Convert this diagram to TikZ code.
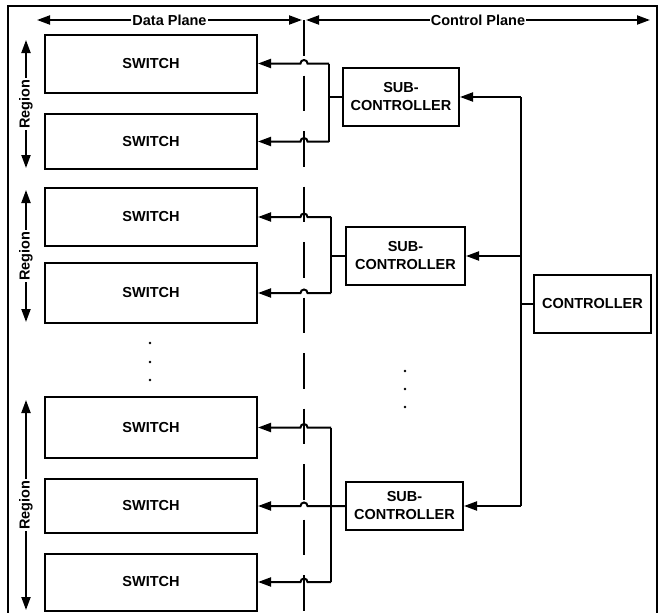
\documentclass[tikz,border=0pt]{standalone}
\usepackage{fontspec}
\setmainfont{Liberation Sans}
\usetikzlibrary{arrows.meta,calc}
\begin{document}
\begin{tikzpicture}[x=1pt,y=-1pt,
  lw/.style={line width=2pt},
  txt/.style={font=\fontsize{14.5}{18}\selectfont\bfseries,align=center},
  swbox/.style={draw,lw,txt,minimum width=212pt,minimum height=#1,inner sep=0pt},
  scbox/.style={draw,lw,txt,minimum width=117pt,minimum height=#1,inner sep=0pt},
  arr/.style={lw,-{Triangle[length=13pt,width=9pt]}},
  darr/.style={lw,{Triangle[length=13pt,width=9pt]}-{Triangle[length=13pt,width=9pt]}},
  lbl/.style={txt,fill=white,inner sep=1pt},
  dot/.style={circle,fill,inner sep=0pt,minimum size=2.8pt}
]
\useasboundingbox (0,0) rectangle (659,613);
\fill[white] (0,0) rectangle (659,613);
% frame
\draw[lw] (8,618) -- (8,6) -- (657,6) -- (657,618);

% top plane arrows
\coordinate (dpl) at (37,20);
\coordinate (dpr) at (302,20);
\coordinate (cpl) at (306,20);
\coordinate (cpr) at (650,20);
\draw[darr] (dpl) -- node[lbl] (dptext) {Data Plane} (dpr);
\draw[darr] (cpl) -- node[lbl] (cptext) {Control Plane} (cpr);

% dashed divider
\coordinate (dtop) at (304,20);
\coordinate (dbot) at (304,616);
\draw[lw,dash pattern=on 35.5pt off 20pt] (dtop) -- (dbot);

% switches
\node[swbox=58pt] (s1) at (151,63.5) {SWITCH};
\node[swbox=55pt] (s2) at (151,141.5) {SWITCH};
\node[swbox=58pt] (s3) at (151,217) {SWITCH};
\node[swbox=60pt] (s4) at (151,293) {SWITCH};
\node[swbox=61pt] (s5) at (151,427.5) {SWITCH};
\node[swbox=54pt] (s6) at (151,506) {SWITCH};
\node[swbox=57pt] (s7) at (151,582) {SWITCH};

% sub-controllers and controller
\node[scbox=58pt,minimum width=116pt] (sc1) at (401,97) {SUB-\\CONTROLLER};
\node[scbox=58pt,minimum width=119pt] (sc2) at (405.5,256) {SUB-\\CONTROLLER};
\node[scbox=48pt] (sc3) at (404.5,506) {SUB-\\CONTROLLER};
\node[scbox=58pt] (ctl) at (592.5,304) {CONTROLLER};

% region arrows
\coordinate (r1t) at (26,40);  \coordinate (r1b) at (26,168);
\coordinate (r2t) at (26,190); \coordinate (r2b) at (26,322);
\coordinate (r3t) at (26,400); \coordinate (r3b) at (26,610);
\draw[darr] (r1t) -- node[lbl,rotate=90] (rg1) {Region} (r1b);
\draw[darr] (r2t) -- node[lbl,rotate=90] (rg2) {Region} (r2b);
\draw[darr] (r3t) -- node[lbl,rotate=90] (rg3) {Region} (r3b);

% group 1 fan-out
\coordinate (g1a) at (329,63.5);
\coordinate (g1b) at (329,141.5);
\draw[lw] (sc1.west) -- (sc1.west -| g1a);
\draw[lw] (g1a) -- (g1b);
\draw[arr] (g1a) -- ($(s1.east -| dtop)+(3.5,0)$) arc[start angle=0,end angle=180,radius=3.5pt] -- (s1.east);
\draw[arr] (g1b) -- ($(s2.east -| dtop)+(3.5,0)$) arc[start angle=0,end angle=180,radius=3.5pt] -- (s2.east);

% group 2 fan-out
\coordinate (g2a) at (331,217);
\coordinate (g2b) at (331,293);
\draw[lw] (sc2.west) -- (sc2.west -| g2a);
\draw[lw] (g2a) -- (g2b);
\draw[arr] (g2a) -- ($(s3.east -| dtop)+(3.5,0)$) arc[start angle=0,end angle=180,radius=3.5pt] -- (s3.east);
\draw[arr] (g2b) -- ($(s4.east -| dtop)+(3.5,0)$) arc[start angle=0,end angle=180,radius=3.5pt] -- (s4.east);

% group 3 fan-out
\coordinate (g3a) at (331,427.5);
\coordinate (g3b) at (331,582);
\draw[lw] (g3a) -- (g3b);
\draw[arr] (g3a) -- ($(s5.east -| dtop)+(3.5,0)$) arc[start angle=0,end angle=180,radius=3.5pt] -- (s5.east);
\draw[arr] (sc3.west) -- ($(s6.east -| dtop)+(3.5,0)$) arc[start angle=0,end angle=180,radius=3.5pt] -- (s6.east);
\draw[arr] (g3b) -- ($(s7.east -| dtop)+(3.5,0)$) arc[start angle=0,end angle=180,radius=3.5pt] -- (s7.east);

% controller bus
\coordinate (bt) at (521,97);
\coordinate (bb) at (521,506);
\draw[lw] (bt) -- (bb);
\draw[lw] (ctl.west) -- (ctl.west -| bt);
\draw[arr] (bt) -- (sc1.east);
\draw[arr] (sc2.east -| bt) -- (sc2.east);
\draw[arr] (bb) -- (sc3.east);

% ellipsis dots
\node[dot] (ld1) at (150,343) {};
\node[dot] (ld2) at (150,362) {};
\node[dot] (ld3) at (150,380) {};
\node[dot] (rd1) at (405,371) {};
\node[dot] (rd2) at (405,389) {};
\node[dot] (rd3) at (405,407) {};
\end{tikzpicture}
\end{document}
